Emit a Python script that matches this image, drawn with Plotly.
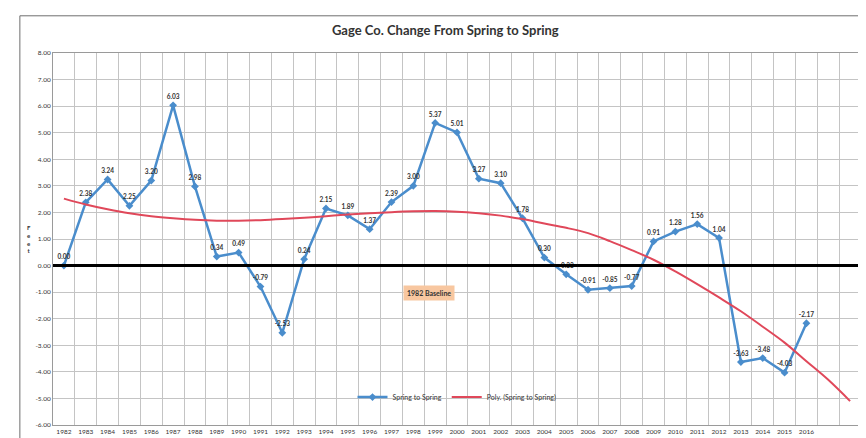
"""Gage Co. change from spring to spring, with polynomial trend."""
import plotly.graph_objects as go

# ------- Data --------

years = list(range(1982, 2017))
change = [0.00, 2.38, 3.24, 2.25, 3.20, 6.03, 2.98, 0.34, 0.49, -0.79,
          -2.53, 0.24, 2.15, 1.89, 1.37, 2.39, 3.00, 5.37, 5.01, 3.27,
          3.10, 1.78, 0.30, -0.33, -0.91, -0.85, -0.77, 0.91, 1.28, 1.56,
          1.04, -3.63, -3.48, -4.03, -2.17]

# trend (extends two years past the data)
trend_years = list(range(1982, 2019))
trend = [2.52, 2.30, 2.12, 1.97, 1.86, 1.78, 1.72, 1.69, 1.69, 1.71,
         1.75, 1.80, 1.86, 1.92, 1.97, 2.01, 2.04, 2.05, 2.03, 1.97,
         1.88, 1.75, 1.58, 1.42, 1.22, 0.92, 0.58, 0.22, -0.22, -0.70,
         -1.20, -1.72, -2.30, -2.90, -3.60, -4.30, -5.10]

y_ticks = list(range(-6, 9))

# ------- Style --------

font = "Lato"
blue = "#4a8dcc"
red = "#e0485a"
grid = "#c4c4c4"

fig = go.Figure()

fig.add_scatter(x=years, y=change, name="Spring to Spring",
                mode="lines+markers+text",
                line=dict(color=blue, width=2.5),
                marker=dict(symbol="diamond", size=6, color=blue),
                texttemplate="<b>%{y:.2f}</b>", textposition="top center",
                textfont=dict(size=6.5, color="#333333", family=font))

fig.add_scatter(x=trend_years, y=trend, name="Poly. (Spring to Spring)",
                mode="lines", line=dict(color=red, width=2, shape="spline"))

# linea base 1982
fig.add_hline(y=0, line_width=3, line_color="black", layer="above")

fig.add_annotation(x=1998.7, y=-1.02, xref="x", yref="y",
                   text="<b>1982 Baseline</b>", showarrow=False,
                   font=dict(size=7, color="#333333", family=font),
                   bgcolor="#f8c7a0", borderpad=3)

# eje y "Feet" en letras apiladas
fig.add_annotation(x=-0.035, y=0.5, xref="paper", yref="paper",
                   text="<b>F<br>e<br>e<br>t</b>", showarrow=False,
                   font=dict(size=6, color="#333333", family=font))

# borde exterior del grafico
fig.add_shape(type="rect", xref="paper", yref="paper", layer="above",
              x0=-0.041, x1=1.010, y0=-0.050, y1=1.100,
              line=dict(color="#6e6e6e", width=1))

fig.update_xaxes(range=[1981.5, 2018.5], tickvals=years,
                 ticktext=[str(y) for y in years], ticks="",
                 tickfont=dict(size=6.5, color="#333333", family=font),
                 showgrid=False, zeroline=False,
                 showline=True, linecolor="#9a9a9a", mirror=True,
                 minor=dict(tick0=1981.5, dtick=1, showgrid=True,
                            gridcolor=grid, gridwidth=1))

fig.update_yaxes(range=[-6, 8], tickvals=y_ticks,
                 ticktext=[f"{v:.2f}" for v in y_ticks], ticks="",
                 tickfont=dict(size=6.5, color="#333333", family=font),
                 showgrid=True, gridcolor=grid, zeroline=False,
                 showline=True, linecolor="#9a9a9a", mirror=True)

fig.update_layout(
    width=866, height=438,
    title=dict(text="<b>Gage Co. Change From Spring to Spring</b>",
               x=0.505, xanchor="center", y=0.948, yanchor="middle",
               font=dict(size=13, color="#333333", family=font)),
    margin=dict(l=45, r=13, t=45, b=21),
    plot_bgcolor="white", paper_bgcolor="white",
    showlegend=True,
    legend=dict(orientation="h", x=0.5, xanchor="center", y=0.075,
                yanchor="middle", bgcolor="rgba(0,0,0,0)",
                font=dict(size=7, color="#333333", family=font),
                itemwidth=30),
)

fig.write_html("out.html")
